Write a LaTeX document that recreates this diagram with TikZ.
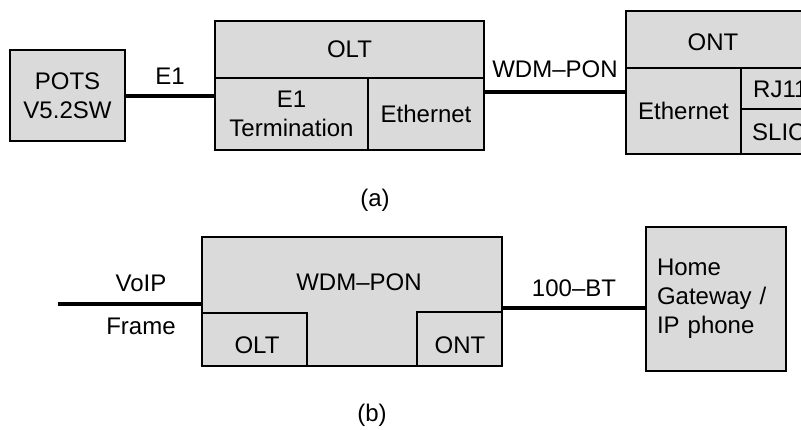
\documentclass[tikz,border=0pt]{standalone}
\usepackage{fontspec}
\setmainfont{Liberation Sans}
\definecolor{boxgray}{RGB}{218,218,218}

\begin{document}
\begin{tikzpicture}[x=1pt,y=-1pt]
\tikzstyle{every node}+=[inner sep=0pt, font=\fontsize{24}{29}\selectfont]
\tikzstyle{box}=[draw=black, line width=2pt, fill=boxgray, rectangle, align=center]
\tikzstyle{link}=[line width=4pt]
\useasboundingbox (0,0) rectangle (801,429);
\clip (0,0) rectangle (801,429);
\node [box, minimum width=115pt, minimum height=91pt] (pots) at (67.5,95.5) {POTS\\V5.2SW};
\node [box, minimum width=269pt, minimum height=57pt] (olttop) at (349.5,49.5) {OLT};
\node [box, minimum width=153pt, minimum height=72pt] (e1term) at (291.5,114) {E1\\Termination};
\node [box, minimum width=116pt, minimum height=72pt] (olteth) at (426,114) {Ethernet};
\node [box, minimum width=189pt, minimum height=57pt] (onttop) at (720.5,39.5) {};
\node (ontlbl) at (713,42) {ONT};
\node [box, minimum width=115pt, minimum height=86pt] (onteth) at (683.5,111) {Ethernet};
\node [box, minimum width=74pt, minimum height=41pt] (rj11) at (778,88.5) {};
\node [box, minimum width=74pt, minimum height=45pt] (slic) at (778,131.5) {};
\node [anchor=west] (rj11lbl) at (753,89) {RJ11};
\node [anchor=west] (sliclbl) at (752,132) {SLIC};
\coordinate (wdm) at (555,92);
\draw [link] (pots) -- (pots -| e1term.west) node [midway, above=9pt] {E1};
\draw [link] (wdm -| olteth.east) -- (wdm -| onteth.west) node [midway, above=12pt] {WDM--PON};
\node (capa) at (375,200) {(a)};
\node [box, minimum width=300pt, minimum height=129pt] (wdmpon) at (352,301.5) {};
\node (wdmlbl) at (359,282) {WDM--PON};
\node [box, minimum width=105pt, minimum height=53pt] (oltb) at (254.5,339.5) {};
\node (oltblbl) at (257,345) {OLT};
\node [box, minimum width=85pt, minimum height=54pt] (ontb) at (459.5,339) {};
\node (ontblbl) at (460,345) {ONT};
\node [box, minimum width=140pt, minimum height=144pt, text width=118pt, align=left, inner xsep=11pt] (hgw) at (716,299) {Home\\Gateway /\\IP phone};
\coordinate (voip) at (58,304);
\coordinate (bt) at (574,308);
\draw [link] (voip) -- (voip -| wdmpon.west) node [pos=0.58, above=10pt] {VoIP} node [pos=0.58, below=12pt] {Frame};
\draw [link] (bt -| wdmpon.east) -- (bt -| hgw.west) node [midway, above=9pt] {100--BT};
\node (capb) at (372,415) {(b)};
\end{tikzpicture}
\end{document}
